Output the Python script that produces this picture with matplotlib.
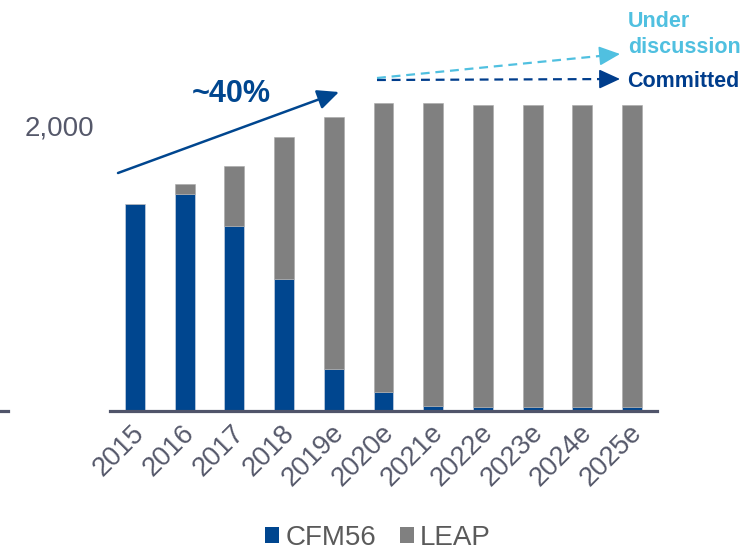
import matplotlib
matplotlib.use("Agg")
import matplotlib.pyplot as plt
import matplotlib.transforms as mtrans
import numpy as np
from matplotlib.patches import Patch
from matplotlib.lines import Line2D

plt.rcParams['font.family'] = ['Liberation Sans', 'DejaVu Sans']

# data (engine deliveries)
years = ['2015', '2016', '2017', '2018', '2019e', '2020e',
         '2021e', '2022e', '2023e', '2024e', '2025e']
cfm56 = [1453, 1525, 1300, 928, 297, 135, 37, 30, 30, 30, 30]
leap = [0, 68, 417, 995, 1764, 2029, 2127, 2119, 2119, 2119, 2119]

blue = '#00468f'
grey = '#808080'
light_blue = '#50c0e0'
navy = '#003d8c'
axis_col = '#50546a'
text_col = '#55586a'

W, H = 751, 551
fig = plt.figure(figsize=(W / 100, H / 100), dpi=100)


def fx(px):
    return px / W


def fy(py):
    return 1 - py / H


# axes: x from 110 to 657 px, y baseline at 411 px, 0.1425 px per unit
ymax = 2300
base_px = 411
top_px = base_px - ymax * 0.1425
ax = fig.add_axes([fx(110), fy(base_px), fx(657) - fx(110), fy(top_px) - fy(base_px)])

x = np.arange(len(years))
ax.bar(x, cfm56, width=0.4, color=blue, edgecolor='#d8dde8', linewidth=0.4)
ax.bar(x, leap, width=0.4, bottom=cfm56, color=grey, edgecolor='#a8a8a8', linewidth=0.4)

ax.set_xlim(-0.5, len(years) - 0.5)
ax.set_ylim(0, ymax)
for s in ['top', 'right', 'left']:
    ax.spines[s].set_visible(False)
ax.spines['bottom'].set_color(axis_col)
ax.spines['bottom'].set_linewidth(2.3)

ax.set_xticks(x)
ax.set_xticklabels(years, rotation=45, ha='right', va='center',
                   rotation_mode='anchor', fontsize=19.5, color=text_col)
ax.tick_params(axis='x', length=0, pad=13)
shift = mtrans.ScaledTranslation(6 / 100, 0, fig.dpi_scale_trans)
for lab in ax.get_xticklabels():
    lab.set_transform(lab.get_transform() + shift)
ax.set_yticks([2000])
ax.set_yticklabels(['2,000'], fontsize=20, color=text_col)
ax.tick_params(axis='y', length=0, pad=11)

# short stub on the far left at the baseline
fig.add_artist(Line2D([fx(0), fx(8)], [fy(411), fy(411)], color=axis_col, lw=2.3))

# growth arrow
ax.annotate('', xy=(fx(339), fy(92)), xytext=(fx(118), fy(173)),
            xycoords='figure fraction', textcoords='figure fraction',
            arrowprops=dict(arrowstyle='-|>,head_length=0.65,head_width=0.3',
                            mutation_scale=20, color=blue, lw=1.8,
                            shrinkA=0, shrinkB=0))
fig.text(fx(231), fy(102), '~40%', ha='center', va='baseline',
         fontsize=22, fontweight='bold', color=blue)

# dashed arrows
def dashed_arrow(x0, y0, x1, y1, col):
    # dashed shaft up to the head base, solid head
    t = 1 - 18 / np.hypot(x1 - x0, y1 - y0)
    xb, yb = x0 + (x1 - x0) * t, y0 + (y1 - y0) * t
    fig.add_artist(Line2D([fx(x0), fx(xb)], [fy(y0), fy(yb)], color=col,
                          lw=1.6, linestyle=(0, (4, 2.6))))
    ax.annotate('', xy=(fx(x1), fy(y1)), xytext=(fx(xb - 1), fy(yb)),
                xycoords='figure fraction', textcoords='figure fraction',
                arrowprops=dict(arrowstyle='-|>,head_length=0.65,head_width=0.3',
                                mutation_scale=20, color=col, lw=1.2,
                                shrinkA=0, shrinkB=0))


dashed_arrow(377, 78, 620, 54, light_blue)
dashed_arrow(377, 80, 620, 79, navy)

fig.text(fx(628), fy(27), 'Under', ha='left', va='baseline',
         fontsize=15.5, fontweight='bold', color=light_blue)
fig.text(fx(628), fy(53), 'discussion', ha='left', va='baseline',
         fontsize=15.5, fontweight='bold', color=light_blue)
fig.text(fx(627), fy(87), 'Committed', ha='left', va='baseline',
         fontsize=15.5, fontweight='bold', color=navy)

handles = [Patch(facecolor=blue, edgecolor='none', label='CFM56'),
           Patch(facecolor=grey, edgecolor='none', label='LEAP')]
fig.legend(handles=handles, loc='center', bbox_to_anchor=(fx(378), fy(538)),
           ncol=2, frameon=False, fontsize=20, handlelength=0.5, handleheight=0.5,
           handletextpad=0.22, columnspacing=0.86, labelcolor='#5a5a5a',
           borderpad=0, borderaxespad=0)

fig.savefig('out.png', dpi=100)
